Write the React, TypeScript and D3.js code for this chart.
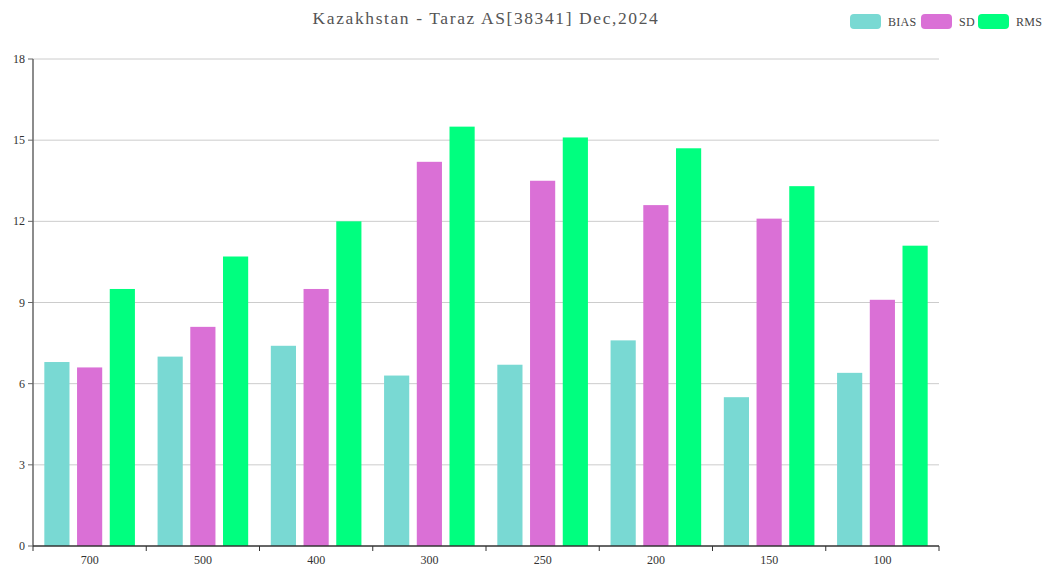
import React from "react";
import * as d3 from "d3";

const categories = ["700", "500", "400", "300", "250", "200", "150", "100"];
const seriesNames = ["BIAS", "SD", "RMS"];
const biasValues = [6.8, 7.0, 7.4, 6.3, 6.7, 7.6, 5.5, 6.4];
const sdValues = [6.6, 8.1, 9.5, 14.2, 13.5, 12.6, 12.1, 9.1];
const rmsValues = [9.5, 10.7, 12.0, 15.5, 15.1, 14.7, 13.3, 11.1];
const yTicks = [0, 3, 6, 9, 12, 15, 18];
const colors = ["#79d9d3", "#da70d6", "#00ff7f"];
const title = "Kazakhstan - Taraz AS[38341] Dec,2024";

const W = 1043;
const H = 566;
const left = 33;
const right = 939;
const top = 59;
const bottom = 546;
const FONT = "'Liberation Serif', 'DejaVu Serif', serif";

export default function App() {
  const series = [biasValues, sdValues, rmsValues];
  const x = d3.scaleBand<string>().domain(categories).range([left, right]).paddingInner(0).paddingOuter(0);
  const bw = x.bandwidth();
  const groupInner = bw * 0.8;
  const barW = groupInner / 3.6;
  const gap = barW * 0.3;
  const y = d3.scaleLinear().domain([0, 18]).range([bottom, top]);
  const legendX = [850, 921, 978];
  const legendTextX = [888, 959, 1016];

  return (
    <div style={{ position: "absolute", left: 0, top: 0 }}>
      <svg width={W} height={H} style={{ display: "block", background: "#fff" }}>
        <text x={(left + right) / 2} y={24} textAnchor="middle" fontFamily={FONT} fontSize={17.5} fill="#555" letterSpacing={1.6}>
          {title}
        </text>
        {seriesNames.map((s, i) => (
          <g key={s}>
            <rect x={legendX[i]} y={14} width={31} height={15} rx={4} fill={colors[i]} />
            <text x={legendTextX[i]} y={26} fontFamily={FONT} fontSize={12} fill="#444" letterSpacing={0.3}>
              {s}
            </text>
          </g>
        ))}
        {yTicks.map((t) => (
          <g key={t}>
            {t > 0 && <line x1={left} x2={right} y1={y(t)} y2={y(t)} stroke="#ccc" strokeWidth={1} />}
            <line x1={left - 5} x2={left} y1={y(t)} y2={y(t)} stroke="#666" strokeWidth={1} />
            <text x={left - 8} y={y(t) + 4} textAnchor="end" fontFamily={FONT} fontSize={12} fill="#333">
              {t}
            </text>
          </g>
        ))}
        {categories.map((c, ci) =>
          series.map((vals, si) => {
            const bx = (x(c) as number) + (bw - groupInner) / 2 + si * (barW + gap);
            return (
              <rect key={c + si} x={bx} y={y(vals[ci])} width={barW} height={bottom - y(vals[ci])} fill={colors[si]} />
            );
          })
        )}
        <line x1={left} x2={left} y1={top} y2={bottom} stroke="#666" strokeWidth={1.5} />
        <line x1={left} x2={right} y1={bottom} y2={bottom} stroke="#333" strokeWidth={1.5} />
        {[...categories.map((c) => x(c) as number), right].map((tx, i) => (
          <line key={i} x1={tx} x2={tx} y1={bottom} y2={bottom + 5} stroke="#333" strokeWidth={1} />
        ))}
        {categories.map((c) => (
          <text key={c} x={(x(c) as number) + bw / 2} y={564} textAnchor="middle" fontFamily={FONT} fontSize={12} fill="#333">
            {c}
          </text>
        ))}
      </svg>
    </div>
  );
}
